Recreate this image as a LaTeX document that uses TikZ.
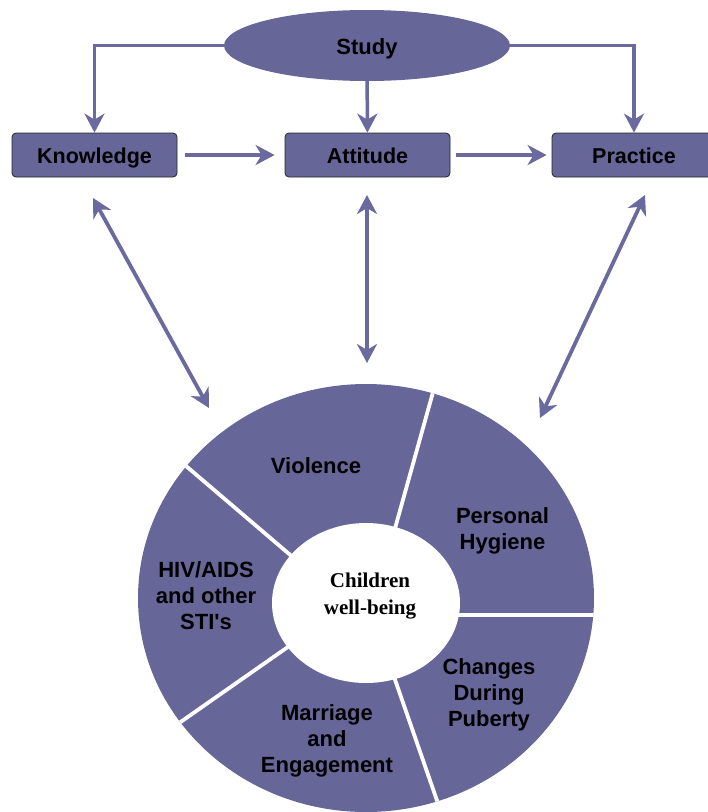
\documentclass[tikz,border=0pt]{standalone}
\usepackage{fontspec}
\setmainfont{Liberation Serif}
\setsansfont{Liberation Sans}[Ligatures=TeXOff]
\usetikzlibrary{arrows.meta,shapes.geometric}
\definecolor{kapfill}{RGB}{102,102,153}
\definecolor{kapline}{RGB}{106,106,158}

\begin{document}
\begin{tikzpicture}[x=1pt,y=-1pt,
  tip/.tip={Stealth[length=19pt,width=20pt,inset=6pt]},
  box/.style={draw=black!85,fill=kapfill,rounded corners=4pt,line width=0.8pt,
    minimum height=44pt,inner sep=0pt,text height=16pt,text depth=0pt,
    font=\sffamily\bfseries\fontsize{21.5}{26}\selectfont},
  seg/.style={align=center,inner sep=0pt,font=\sffamily\bfseries\fontsize{22}{26}\selectfont},
  link/.style={draw=kapline,line width=3.5pt,-tip},
  dlink/.style={draw=kapline,line width=3.8pt,tip-tip}]
\useasboundingbox (0,0) rectangle (708,812);
\clip (0,0) rectangle (708,812);

\node[ellipse,fill=kapfill,minimum width=286pt,minimum height=71pt,inner sep=0pt,
  text height=18pt,text depth=0pt,
  font=\sffamily\bfseries\fontsize{22}{26}\selectfont] (study) at (367,45.5) {Study};
\node[box,minimum width=165pt] (know) at (94.5,155) {Knowledge};
\node[box,minimum width=165pt] (att) at (367.5,155) {Attitude};
\node[box,minimum width=164pt] (prac) at (634,155) {Practice};

\draw[link] (study.west) -| (know.north);
\draw[link] (study) -- (att);
\draw[link] (study.east) -| (prac.north);
\draw[link,line width=4.5pt,shorten <=8pt,shorten >=10pt] (know) -- (att);
\draw[link,line width=4.5pt,shorten <=6pt,shorten >=5pt] (att) -- (prac);

% ring
\fill[kapfill] (366,598) ellipse [x radius=228,y radius=214];
\begin{scope}
  \clip (366,598) ellipse [x radius=228,y radius=214];
  \foreach \xa/\ya/\xb/\yb in {394/532/435/385, 450/615/600/615, 392/671/441/812,
                     295/642/172/728, 295/559/179/460}
    \draw[white,line width=3.8pt] (\xa,\ya) -- (\xb,\yb);
\end{scope}
\fill[white] (366,603) ellipse [x radius=94,y radius=80];

\node[seg] (viol) at (316,466) {Violence};
\node[seg] (hyg) at (502.5,530.7) {Personal\\Hygiene};
\node[seg] (pub) at (489,694.8) {Changes\\During\\Puberty};
\node[seg] (marr) at (327,741) {Marriage\\and\\Engagement};
\node[seg] (hiv) at (206,596) {HIV/AIDS\\and other\\STI's};
\node[align=center,inner sep=0pt,font=\rmfamily\bfseries\fontsize{21}{27}\selectfont]
  (child) at (370,596.5) {Children\\well-being};

\coordinate (kUp) at (93,198);
\coordinate (kDn) at (209,408);
\coordinate (aUp) at (367,195);
\coordinate (aDn) at (367,363);
\coordinate (pUp) at (645,195);
\coordinate (pDn) at (540,418);
\draw[dlink] (kUp) -- (kDn);
\draw[dlink] (aUp) -- (aDn);
\draw[dlink] (pUp) -- (pDn);
\end{tikzpicture}
\end{document}
